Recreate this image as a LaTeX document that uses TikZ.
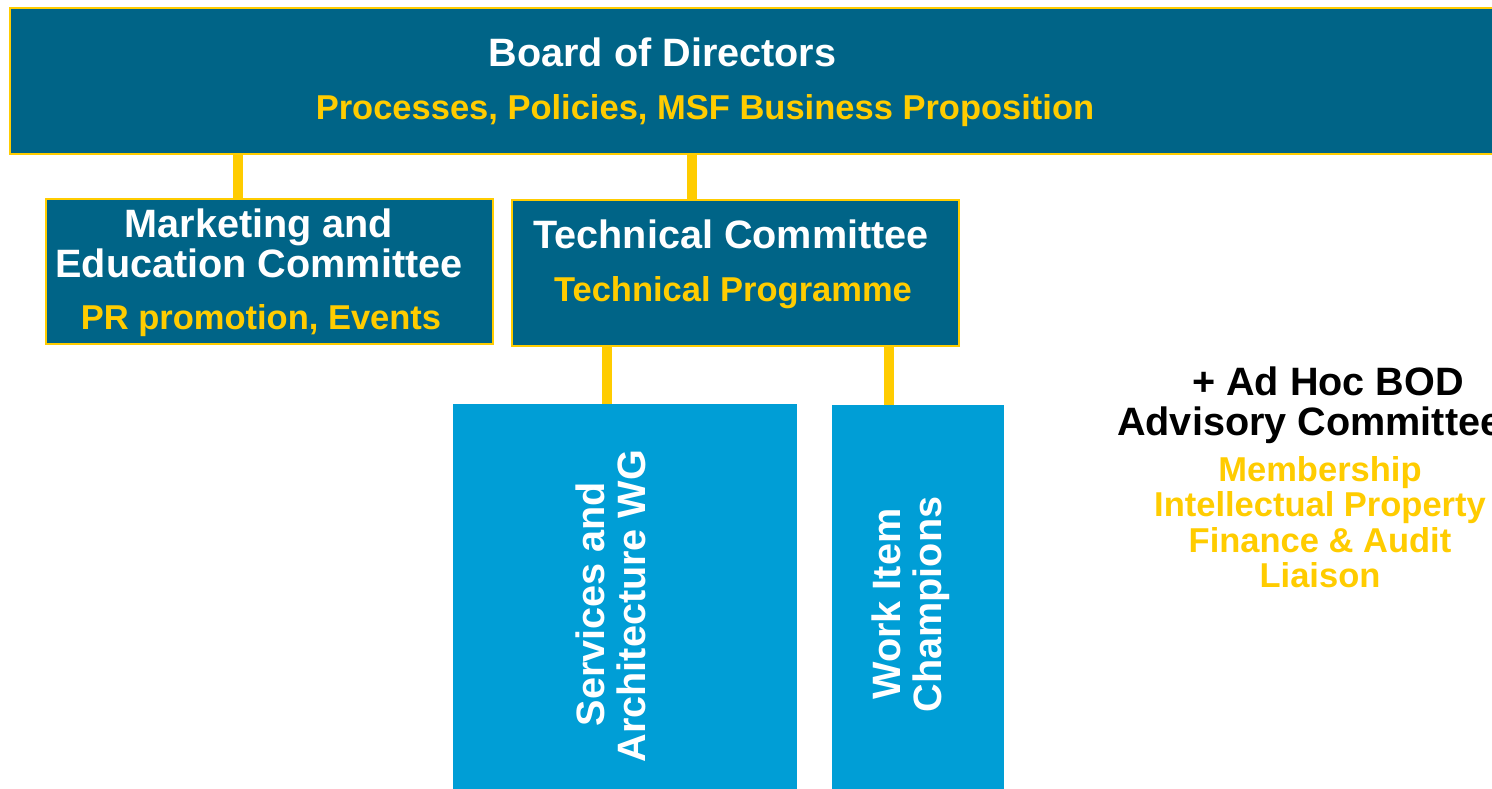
\documentclass[tikz,border=0pt]{standalone}
\usepackage{fontspec}
\setmainfont{Liberation Sans}
\definecolor{teal}{HTML}{006487}
\definecolor{gold}{HTML}{FFCC00}
\definecolor{sky}{HTML}{009ED6}
\tikzset{
  darkbox/.style={draw=gold, line width=2pt, fill=teal, inner sep=0pt, outer sep=0pt, anchor=north west},
  lightbox/.style={fill=sky, inner sep=0pt, outer sep=0pt, anchor=north west},
  conn/.style={draw=gold, line width=10pt},
  big/.style={font=\fontsize{39.6}{41}\selectfont\bfseries, inner sep=0pt, anchor=base},
  small/.style={font=\fontsize{34.5}{35.5}\selectfont\bfseries, text=gold, inner sep=0pt, anchor=base},
}
\begin{document}
\begin{tikzpicture}[x=1pt,y=-1pt]
\clip (0,0) rectangle (1492,788);
\fill[white] (0,0) rectangle (1492,788);
% boxes
\node[darkbox, minimum width=1510pt, minimum height=146pt] (board) at (10,8) {};
\node[darkbox, minimum width=447pt, minimum height=145pt] (mkt) at (46,199) {};
\node[darkbox, minimum width=447pt, minimum height=146pt] (tech) at (512,200) {};
\node[lightbox, minimum width=344pt, minimum height=390pt] (sa) at (453,404) {};
\node[lightbox, minimum width=172pt, minimum height=390pt] (wic) at (832,405) {};
% connector positions
\coordinate (c1) at (238,0);
\coordinate (c2) at (692,0);
\coordinate (c3) at (606.5,0);
\coordinate (c4) at (889,0);
\draw[conn] (board.south -| c1) -- (mkt.north -| c1);
\draw[conn] (board.south -| c2) -- (tech.north -| c2);
\draw[conn] (tech.south -| c3) -- (sa.north -| c3);
\draw[conn] (tech.south -| c4) -- (wic.north -| c4);
% texts
\node[big, text=white] (t1) at (662.5,66) {Board of Directors};
\node[small] (s1) at (705,119) {Processes, Policies, MSF Business Proposition};
\node[big, text=white] (t2) at (259,237) {Marketing and};
\node[big, text=white] (t3) at (259,277) {Education Committee};
\node[small] (s2) at (261,329) {PR promotion, Events};
\node[big, text=white] (t4) at (731,248) {Technical Committee};
\node[small] (s3) at (733,301) {Technical Programme};
\node[big, text=white, rotate=90] (v1) at (604,604) {Services and};
\node[big, text=white, rotate=90] (v2) at (645,606) {Architecture WG};
\node[big, text=white, rotate=90] (v3) at (900,604) {Work Item};
\node[big, text=white, rotate=90] (v4) at (941,604.5) {Champions};
\node[big, anchor=base west] (a1) at (1192,395) {+ Ad Hoc BOD};
\node[big, anchor=base west] (a2) at (1117,435) {Advisory Committee};
\node[small] (y1) at (1320,481) {Membership};
\node[small] (y2) at (1320,516) {Intellectual Property};
\node[small] (y3) at (1320,552) {Finance \& Audit};
\node[small] (y4) at (1320,587) {Liaison};
\end{tikzpicture}
\end{document}
